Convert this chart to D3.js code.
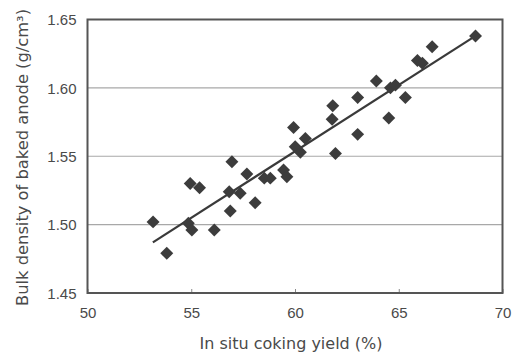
<!DOCTYPE html>
<html><head><meta charset="utf-8">
<script src="https://cdn.jsdelivr.net/npm/d3@7"></script>
<style>html,body{margin:0;padding:0;background:#fff;}svg{display:block;}</style>
</head><body>
<svg id="chart" width="513" height="352"></svg>
<script>
// Data
const cokingYield = [53.16,53.82,54.95,55.40,54.86,55.03,56.11,56.88,56.83,57.36,56.96,57.68,58.08,58.52,58.81,59.45,59.61,59.93,60.01,60.26,60.50,61.95,61.82,61.79,63.02,63.02,63.92,64.52,64.60,64.84,65.32,65.90,66.14,66.61,68.70];
const bulkDensity = [1.502,1.479,1.530,1.527,1.501,1.496,1.496,1.510,1.524,1.523,1.546,1.537,1.516,1.534,1.534,1.540,1.535,1.571,1.557,1.553,1.563,1.552,1.587,1.577,1.566,1.593,1.605,1.578,1.600,1.602,1.593,1.620,1.618,1.630,1.638];
const trendX = [53.15, 68.7];
const trendY = [1.487, 1.638];
const xTicks = [50,55,60,65,70];
const yTicks = [1.45,1.50,1.55,1.60,1.65];
const gridValues = [1.50,1.55,1.60];
const xTitle = "In situ coking yield (%)";
const yTitle = "Bulk density of baked anode (g/cm\u00B3)";

const svg = d3.select("#chart");
const m = {left:87.5, right:502.5, top:19.5, bottom:293};
const x = d3.scaleLinear().domain([50,70]).range([m.left,m.right]);
const y = d3.scaleLinear().domain([1.45,1.65]).range([m.bottom,m.top]);
const font = "'Liberation Sans', Arial, sans-serif";
const titleFont = "'DejaVu Sans', sans-serif";
const txt = "#4a4a4a";

// gridlines
svg.append("g").selectAll("line").data(gridValues).join("line")
  .attr("x1",m.left).attr("x2",m.right)
  .attr("y1",d=>y(d)).attr("y2",d=>y(d))
  .attr("stroke","#a8a8a8").attr("stroke-width",1.2);

// x axis (ticks inside)
const xAxis = d3.axisBottom(x).tickValues(xTicks).tickFormat(d3.format("d")).tickSizeInner(-4).tickSizeOuter(0).tickPadding(14);
const gx = svg.append("g").attr("transform",`translate(0,${m.bottom})`).call(xAxis);
gx.select(".domain").remove();
gx.selectAll("line").attr("stroke","#888");
gx.selectAll("text").attr("font-family",font).attr("font-size",15).attr("fill",txt);

const yAxis = d3.axisLeft(y).tickValues(yTicks).tickFormat(d3.format(".2f")).tickSize(0).tickPadding(11);
const gy = svg.append("g").attr("transform",`translate(${m.left},0)`).call(yAxis);
gy.select(".domain").remove();
gy.selectAll("text").attr("font-family",font).attr("font-size",15).attr("fill",txt).attr("dy","0.35em");

// frame
svg.append("rect").attr("x",m.left).attr("y",m.top).attr("width",m.right-m.left).attr("height",m.bottom-m.top)
  .attr("fill","none").attr("stroke","#555").attr("stroke-width",2);

// trend line
svg.append("line")
  .attr("x1",x(trendX[0])).attr("y1",y(trendY[0]))
  .attr("x2",x(trendX[1])).attr("y2",y(trendY[1]))
  .attr("stroke","#3a3a3a").attr("stroke-width",2.2);

// points
const pts = cokingYield.map((v,i)=>({x:v,y:bulkDensity[i]}));
const diamond = d3.symbol().type(d3.symbolSquare).size(84);
svg.append("g").selectAll("path").data(pts).join("path")
  .attr("d",diamond)
  .attr("transform",d=>`translate(${x(d.x)},${y(d.y)}) rotate(45)`)
  .attr("fill","#3c3c3c");

// titles
svg.append("text").attr("x",291).attr("y",349)
  .attr("text-anchor","middle").attr("font-family",titleFont).attr("font-size",16).attr("fill",txt)
  .attr("textLength",183).attr("lengthAdjust","spacingAndGlyphs")
  .text(xTitle);
svg.append("text").attr("transform",`translate(28,157.5) rotate(-90)`)
  .attr("text-anchor","middle").attr("font-family",titleFont).attr("font-size",16).attr("fill",txt)
  .attr("textLength",297).attr("lengthAdjust","spacingAndGlyphs")
  .text(yTitle);
</script>
</body></html>
